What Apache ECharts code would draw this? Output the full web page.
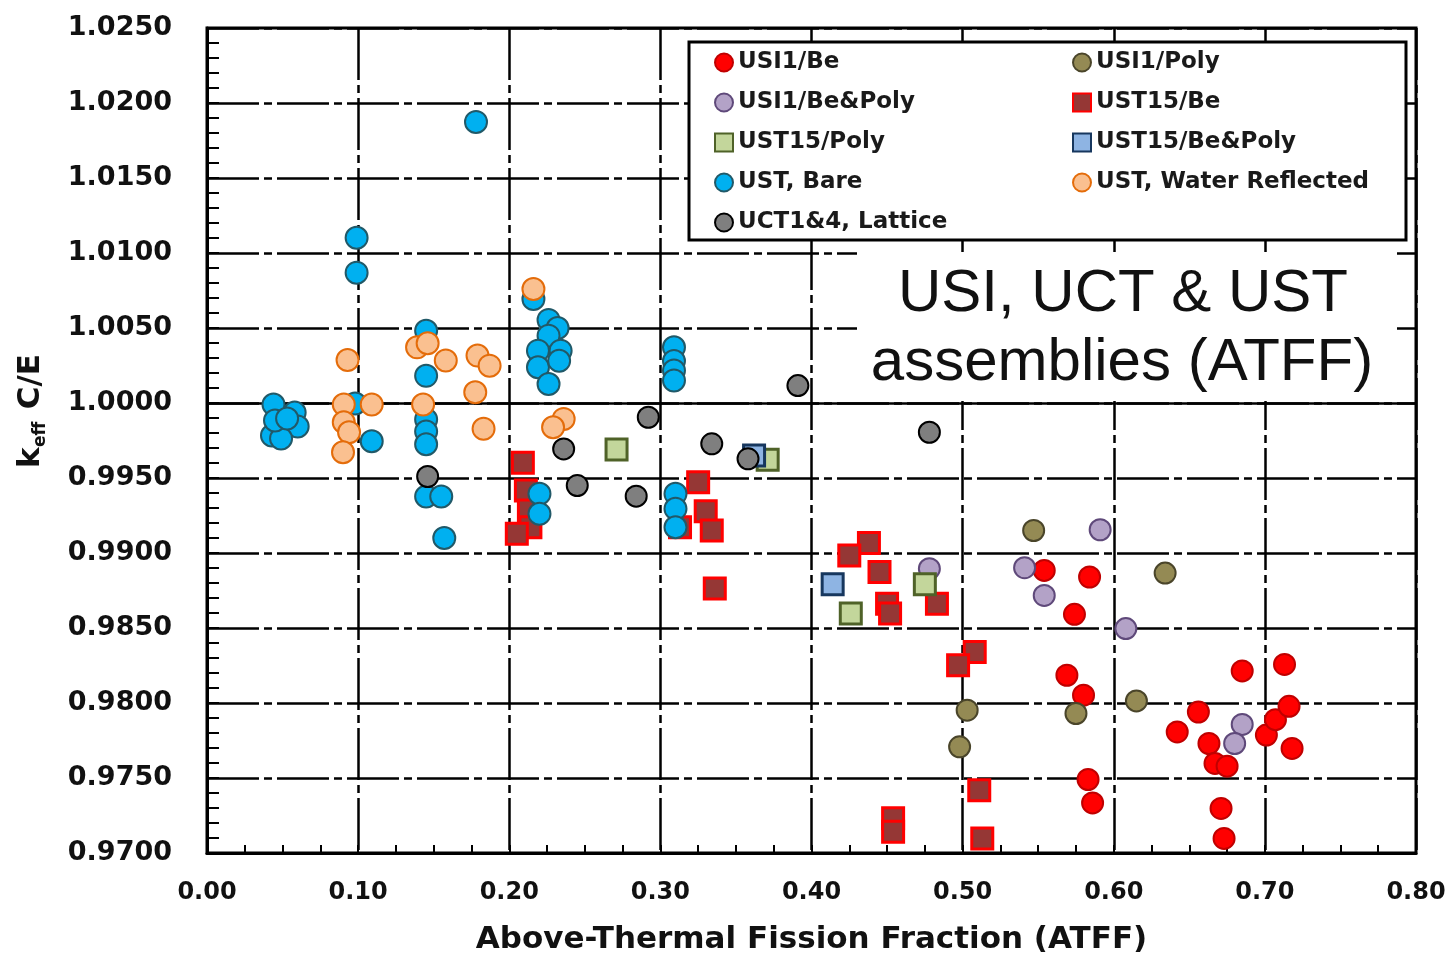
<!DOCTYPE html>
<html>
<head>
<meta charset="utf-8">
<script src="https://cdn.jsdelivr.net/npm/echarts@6/dist/echarts.min.js"></script>
<style>
  html, body { margin: 0; padding: 0; background: #ffffff; }
  #chart { width: 1449px; height: 953px; }
</style>
</head>
<body>
<div id="chart"></div>
<script>
// Calculated-to-experimental k_eff ratio versus above-thermal fission fraction
// Each point is [ATFF, k_eff C/E]

const usi1Be = [
  [0.554, 0.98884], [0.584, 0.98840], [0.574, 0.98591], [0.569, 0.98185],
  [0.580, 0.98052], [0.583, 0.97490], [0.586, 0.97334], [0.685, 0.98214],
  [0.713, 0.98257], [0.656, 0.97940], [0.642, 0.97807], [0.663, 0.97730],
  [0.667, 0.97597], [0.675, 0.97579], [0.671, 0.97297], [0.673, 0.97097],
  [0.701, 0.97786], [0.707, 0.97889], [0.716, 0.97978], [0.718, 0.97697]
];

const usi1Poly = [
  [0.547, 0.99150], [0.503, 0.97952], [0.498, 0.97708],
  [0.575, 0.97930], [0.634, 0.98866], [0.615, 0.98014]
];

const usi1BePoly = [
  [0.478, 0.98895], [0.541, 0.98902], [0.554, 0.98717], [0.591, 0.99155],
  [0.608, 0.98496], [0.685, 0.97857], [0.680, 0.97730]
];

const ust15Be = [
  [0.209, 0.99601], [0.211, 0.99417], [0.213, 0.99284], [0.214, 0.99172],
  [0.205, 0.99128], [0.325, 0.99472], [0.330, 0.99279], [0.334, 0.99150],
  [0.313, 0.99172], [0.336, 0.98764], [0.438, 0.99066], [0.425, 0.98984],
  [0.445, 0.98873], [0.450, 0.98662], [0.452, 0.98596], [0.483, 0.98662],
  [0.508, 0.98340], [0.497, 0.98252], [0.511, 0.97419], [0.454, 0.97231],
  [0.454, 0.97142], [0.513, 0.97097]
];

const ust15Poly = [
  [0.271, 0.99690], [0.371, 0.99621], [0.475, 0.98791], [0.426, 0.98596]
];

const ust15BePoly = [
  [0.362, 0.99650], [0.414, 0.98791]
];

const ustBare = [
  [0.178, 1.01874], [0.099, 1.01102], [0.099, 1.00869],
  [0.044, 0.99990], [0.058, 0.99937], [0.060, 0.99843], [0.043, 0.99783],
  [0.049, 0.99763], [0.045, 0.99883], [0.053, 0.99897],
  [0.098, 0.99997], [0.109, 0.99745],
  [0.145, 1.00482], [0.145, 1.00181], [0.145, 0.99890], [0.145, 0.99810],
  [0.145, 0.99725], [0.145, 0.99377], [0.155, 0.99377], [0.157, 0.99100],
  [0.216, 1.00693], [0.226, 1.00554], [0.232, 1.00500], [0.226, 1.00449],
  [0.219, 1.00349], [0.234, 1.00349], [0.219, 1.00238], [0.233, 1.00282],
  [0.226, 1.00127],
  [0.309, 1.00371], [0.309, 1.00280], [0.309, 1.00216], [0.309, 1.00150],
  [0.220, 0.99395], [0.220, 0.99262],
  [0.310, 0.99395], [0.310, 0.99295], [0.310, 0.99172]
];

const ustWater = [
  [0.093, 1.00287], [0.0905, 0.99990], [0.109, 0.99990], [0.0905, 0.99872],
  [0.094, 0.99805], [0.090, 0.99672], [0.139, 1.00371], [0.146, 1.00398],
  [0.158, 1.00283], [0.179, 1.00316], [0.187, 1.00249], [0.1775, 1.00072],
  [0.143, 0.99990], [0.183, 0.99828], [0.216, 1.00760], [0.236, 0.99894],
  [0.229, 0.99838]
];

const uctLattice = [
  [0.146, 0.99510], [0.236, 0.99694], [0.245, 0.99450], [0.292, 0.99905],
  [0.284, 0.99379], [0.334, 0.99728], [0.358, 0.99628], [0.391, 1.00116],
  [0.478, 0.99805]
];

const xTickLabels = ['0.00', '0.10', '0.20', '0.30', '0.40', '0.50', '0.60', '0.70', '0.80'];
const yTickLabels = ['0.9700', '0.9750', '0.9800', '0.9850', '0.9900', '0.9950',
                     '1.0000', '1.0050', '1.0100', '1.0150', '1.0200', '1.0250'];

const legendLeftColumn = ['USI1/Be', 'USI1/Be&Poly', 'UST15/Poly', 'UST, Bare', 'UCT1&4, Lattice'];
const legendRightColumn = ['USI1/Poly', 'UST15/Be', 'UST15/Be&Poly', 'UST, Water Reflected'];

const X_MIN = 0, X_MAX = 0.8, X_STEP = 0.1;
const Y_MIN = 0.97, Y_MAX = 1.025, Y_STEP = 0.005;

const FONT = '"DejaVu Sans", "Liberation Sans", sans-serif';
const gridDash = [52, 5, 8, 5];

function circleSeries(name, data, fill, border, size) {
  return {
    name, type: 'scatter', data,
    symbol: 'circle', symbolSize: size,
    itemStyle: { color: fill, borderColor: border, borderWidth: 2, opacity: 1 },
    emphasis: { disabled: true }
  };
}
function squareSeries(name, data, fill, border) {
  return {
    name, type: 'scatter', data,
    symbol: 'rect', symbolSize: 21,
    itemStyle: { color: fill, borderColor: border, borderWidth: 3, opacity: 1 },
    emphasis: { disabled: true }
  };
}

const legendText = {
  fontFamily: FONT, fontWeight: 'bold', fontSize: 23, color: '#1a1a1a', lineHeight: 20
};

const chart = echarts.init(document.getElementById('chart'), null, { renderer: 'canvas' });

chart.setOption({
  animation: false,
  backgroundColor: '#ffffff',
  grid: {
    left: 207, right: 33, top: 28, bottom: 100,
    containLabel: false, outerBoundsMode: 'none',
    show: true, borderColor: '#000', borderWidth: 3, backgroundColor: 'transparent'
  },
  xAxis: {
    type: 'value', min: X_MIN, max: X_MAX, interval: X_STEP,
    name: 'Above-Thermal Fission Fraction (ATFF)',
    nameLocation: 'middle', nameGap: 71,
    nameTextStyle: { fontFamily: FONT, fontWeight: 'bold', fontSize: 31, color: '#111' },
    axisLine: { show: true, onZero: false, lineStyle: { color: '#000', width: 3 } },
    axisTick: { show: true, inside: true, length: 8, lineStyle: { color: '#000', width: 2 } },
    minorTick: { show: true, splitNumber: 4, length: 8, lineStyle: { color: '#000', width: 2 } },
    axisLabel: {
      margin: 28, fontFamily: FONT, fontWeight: 'bold', fontSize: 24, color: '#111',
      formatter: v => xTickLabels[Math.round((v - X_MIN) / X_STEP)]
    },
    splitLine: { show: true, lineStyle: { color: '#000', width: 2.5, type: gridDash } }
  },
  yAxis: {
    type: 'value', min: Y_MIN, max: Y_MAX, interval: Y_STEP,
    axisLine: { show: true, onZero: false, lineStyle: { color: '#000', width: 3 } },
    axisTick: { show: true, inside: true, length: 12, lineStyle: { color: '#000', width: 2 } },
    minorTick: { show: true, splitNumber: 5, length: 12, lineStyle: { color: '#000', width: 2 } },
    axisLabel: {
      margin: 35, fontFamily: FONT, fontWeight: 'bold', fontSize: 27, color: '#111',
      formatter: v => yTickLabels[Math.round((v - Y_MIN) / Y_STEP)]
    },
    splitLine: { show: true, lineStyle: { color: '#000', width: 2.5, type: gridDash } }
  },
  legend: [
    {
      orient: 'vertical', left: 709, top: 46, itemGap: 17,
      itemWidth: 18, itemHeight: 18, selectedMode: false,
      data: legendLeftColumn, textStyle: legendText
    },
    {
      orient: 'vertical', left: 1067, top: 46, itemGap: 17,
      itemWidth: 18, itemHeight: 18, selectedMode: false,
      data: legendRightColumn, textStyle: legendText
    }
  ],
  graphic: {
    elements: [
      // legend frame
      { type: 'rect', z: 3, shape: { x: 689, y: 42, width: 717, height: 198 },
        style: { fill: '#ffffff', stroke: '#000', lineWidth: 3 } },
      // title panel inside the plot
      { type: 'rect', z: 3, shape: { x: 857, y: 252, width: 536, height: 149 },
        style: { fill: '#ffffff' } },
      { type: 'text', z: 5, x: 1123, y: 294,
        style: { text: 'USI, UCT & UST', fontFamily: '"Liberation Sans", Arial, sans-serif',
                 fontSize: 60, fill: '#111', align: 'center', verticalAlign: 'middle' } },
      { type: 'text', z: 5, x: 1122, y: 363,
        style: { text: 'assemblies (ATFF)', fontFamily: '"Liberation Sans", Arial, sans-serif',
                 fontSize: 60, fill: '#111', align: 'center', verticalAlign: 'middle' } },
      // y-axis title: k_eff C/E, reading bottom to top
      { type: 'group', x: 31, y: 410, rotation: Math.PI / 2, z: 5,
        children: [
          { type: 'text', x: -58, y: 0,
            style: { text: 'k', fontFamily: FONT, fontWeight: 'bold', fontSize: 31,
                     fill: '#111', align: 'left', verticalAlign: 'middle' } },
          { type: 'text', x: -37, y: 10,
            style: { text: 'eff', fontFamily: FONT, fontWeight: 'bold', fontSize: 17,
                     fill: '#111', align: 'left', verticalAlign: 'middle' } },
          { type: 'text', x: -10, y: 0,
            style: { text: ' C/E', fontFamily: FONT, fontWeight: 'bold', fontSize: 31,
                     fill: '#111', align: 'left', verticalAlign: 'middle' } }
        ] }
    ]
  },
  series: [
    {
      name: 'unity', type: 'scatter', data: [], z: 1,
      markLine: {
        silent: true, z: 1, symbol: ['none', 'none'],
        label: { show: false },
        lineStyle: { color: '#000', width: 2.5, type: 'solid' },
        data: [{ yAxis: 1.0 }]
      }
    },
    circleSeries('USI1/Be', usi1Be, '#ff0000', '#c00000', 21),
    circleSeries('USI1/Poly', usi1Poly, '#948a54', '#4a452a', 21),
    circleSeries('USI1/Be&Poly', usi1BePoly, '#b3a2c7', '#5f497a', 21),
    squareSeries('UST15/Be', ust15Be, '#953735', '#ff0000'),
    squareSeries('UST15/Poly', ust15Poly, '#c3d69b', '#4f6228'),
    squareSeries('UST15/Be&Poly', ust15BePoly, '#8eb4e3', '#17375e'),
    circleSeries('UST, Bare', ustBare, '#00b0f0', '#215968', 22),
    circleSeries('UST, Water Reflected', ustWater, '#fac090', '#e46c0a', 22),
    circleSeries('UCT1&4, Lattice', uctLattice, '#7f7f7f', '#000000', 21)
  ]
});
</script>
</body>
</html>
